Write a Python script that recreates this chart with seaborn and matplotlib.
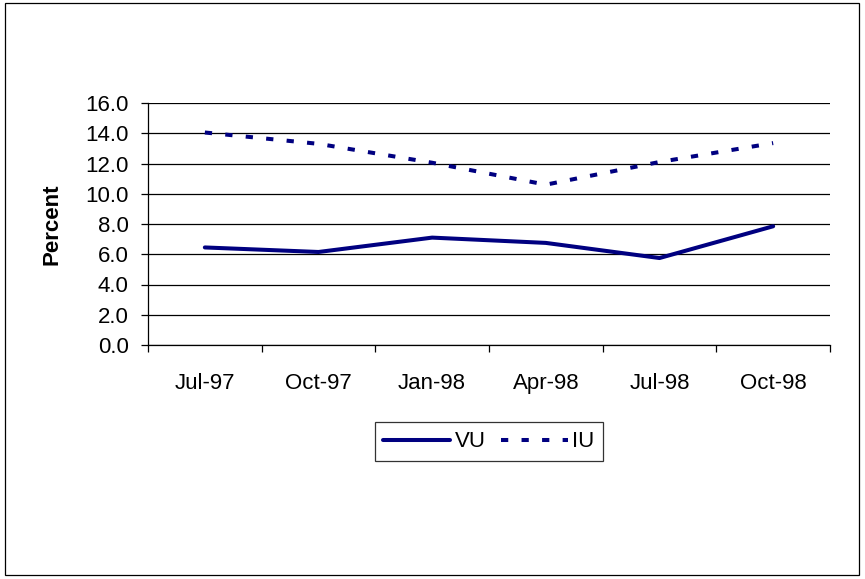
import matplotlib
matplotlib.use("Agg")
import matplotlib.pyplot as plt
from matplotlib.patches import Rectangle
from matplotlib.ticker import FixedLocator, NullFormatter
import seaborn as sns
import pandas as pd

# Quarterly rates (percent)
months = ["Jul-97", "Oct-97", "Jan-98", "Apr-98", "Jul-98", "Oct-98"]
vu = [6.45, 6.15, 7.1, 6.75, 5.75, 7.85]
iu = [14.05, 13.3, 12.05, 10.6, 12.1, 13.35]
y_ticks = [0, 2, 4, 6, 8, 10, 12, 14, 16]

sns.set_theme(style="white")
plt.rcParams["font.family"] = ["Liberation Sans", "DejaVu Sans"]
plt.rcParams["text.color"] = "black"
plt.rcParams["xtick.color"] = "black"
plt.rcParams["ytick.color"] = "black"
plt.rcParams["axes.labelcolor"] = "black"

FS = 16
LW = 2.9

df = pd.DataFrame({
    "pos": list(range(len(months))) * 2,
    "value": vu + iu,
    "series": ["VU"] * len(months) + ["IU"] * len(months),
})

fig = plt.figure(figsize=(8.65, 5.79), dpi=100)
ax = fig.add_axes([148 / 865, 1 - 345 / 579, 682 / 865, 242 / 579])

navy = "#000080"
sns.lineplot(
    data=df, x="pos", y="value", hue="series", style="series",
    palette={"VU": navy, "IU": navy},
    dashes={"VU": "", "IU": (1.8, 3.3)},
    linewidth=LW, ax=ax, legend=True,
)
for line in ax.lines:
    line.set_dash_capstyle("butt")
    line.set_solid_capstyle("round")

ax.set_xlim(-0.5, len(months) - 0.5)
ax.set_ylim(0, 16)
ax.set_yticks(y_ticks)
ax.set_yticklabels([f"{v:.1f}" for v in y_ticks], fontsize=FS)
ax.yaxis.grid(True, color="black", linewidth=0.9)
ax.set_axisbelow(True)

# Ticks sit on category boundaries, labels centred in each category
ax.xaxis.set_major_locator(FixedLocator([i - 0.5 for i in range(len(months) + 1)]))
ax.xaxis.set_major_formatter(NullFormatter())
ax.xaxis.set_minor_locator(FixedLocator(list(range(len(months)))))
ax.set_xticklabels(months, minor=True, fontsize=FS)
ax.tick_params(axis="x", which="major", direction="out", length=5, width=0.9, color="black", bottom=True)
ax.tick_params(axis="x", which="minor", length=0, pad=20)
ax.tick_params(axis="y", direction="out", length=5, width=0.9, color="black", left=True, pad=9)

for side in ["top", "right"]:
    ax.spines[side].set_visible(False)
for side in ["left", "bottom"]:
    ax.spines[side].set_color("black")
    ax.spines[side].set_linewidth(0.9)

ax.set_xlabel("")
ax.set_ylabel("Percent", fontsize=FS, fontweight="bold", labelpad=16)

handles, labels = ax.get_legend_handles_labels()
order = [labels.index("VU"), labels.index("IU")]
leg = ax.legend(
    [handles[i] for i in order], [labels[i] for i in order],
    loc="center", bbox_to_anchor=(0.5, -0.40), ncol=2, frameon=True,
    fontsize=FS, handlelength=3.0, handletextpad=0.2, columnspacing=0.7,
    fancybox=False, borderpad=0.4, borderaxespad=0,
)
leg.get_frame().set_edgecolor("black")
leg.get_frame().set_linewidth(0.9)
for h in leg.get_lines():
    h.set_linewidth(LW)
    h.set_dash_capstyle("butt")

fig.add_artist(Rectangle((5 / 865, 4 / 579), 854 / 865, 572 / 579,
                         transform=fig.transFigure, fill=False,
                         edgecolor="black", linewidth=0.9))

fig.savefig("out.png", dpi=100)
